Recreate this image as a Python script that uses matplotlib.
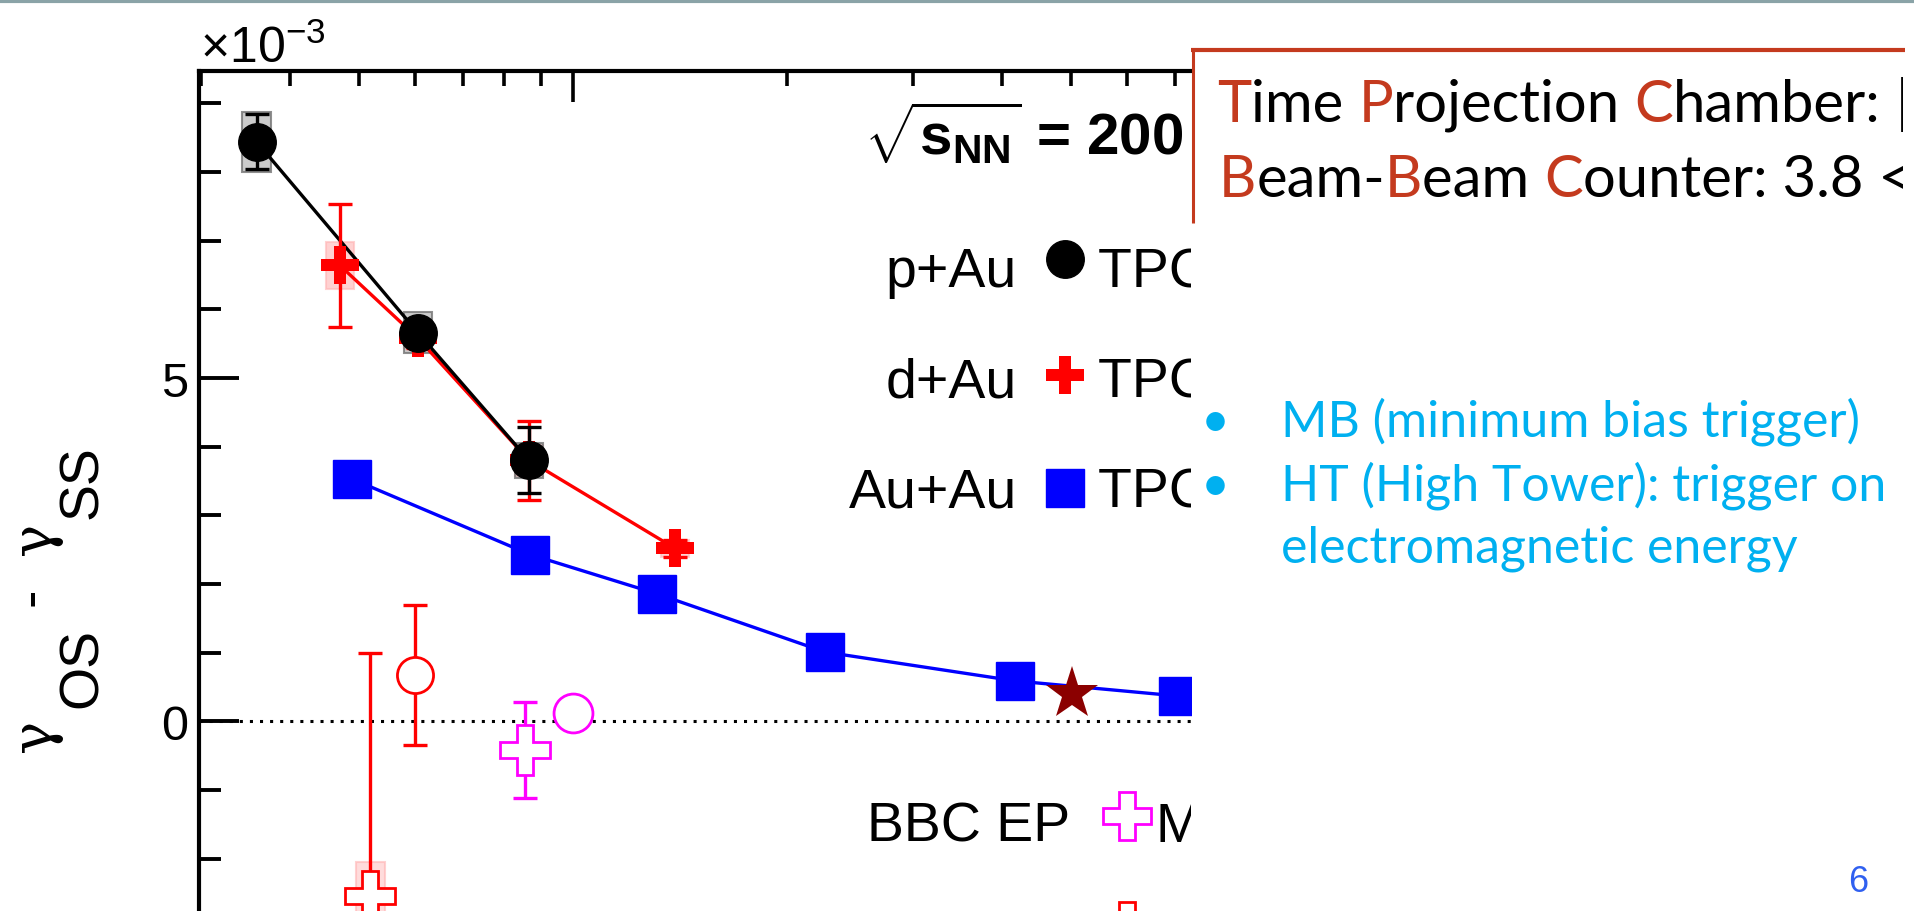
import numpy as np
import matplotlib.pyplot as plt
from matplotlib.patches import Rectangle
from matplotlib.transforms import Bbox

plt.rcParams['font.family'] = ['Liberation Sans', 'DejaVu Sans']
plt.rcParams['mathtext.fontset'] = 'custom'
plt.rcParams['mathtext.rm'] = 'Liberation Sans'
plt.rcParams['mathtext.it'] = 'Liberation Sans:italic'
plt.rcParams['mathtext.bf'] = 'Liberation Sans:bold'

W, H = 1915, 912
AX_L, AX_R, AX_T = 199, 1191, 72

# values (y in units of 1e-3)
pau_x = [3.59, 6.05, 8.67]
pau_y = [8.44, 5.66, 3.80]
pau_stat = [0.40, 0.10, 0.48]
pau_sys = [0.44, 0.30, 0.26]

dau_x = [4.70, 6.05, 8.67, 13.9]
dau_y = [6.64, 5.58, 3.80, 2.52]
dau_stat = [0.90, 0.15, 0.57, 0.12]
dau_sys = [0.34, 0.15, 0.22, 0.12]

auau_x = [4.89, 8.70, 13.1, 22.6, 41.8, 70.8]
auau_y = [3.53, 2.43, 1.86, 1.01, 0.59, 0.37]

star_x = [50.2]
star_y = [0.40]

bbc_dau_x = [5.19]
bbc_dau_y = [-2.54]
bbc_dau_err = [3.53]
bbc_dau_sys = [0.50]

ht_dau_x = [6.0]
ht_dau_y = [0.68]
ht_dau_err = [1.02]

bbc_pau_x = [8.56]
bbc_pau_y = [-0.41]
bbc_pau_err = [0.70]

ht_pau_x = [10.0]
ht_pau_y = [0.12]

fig = plt.figure(figsize=(W / 100, H / 100), dpi=100)
ax = fig.add_axes([AX_L / W, 0, (AX_R - AX_L) / W, (H - AX_T) / H])
ax.set_xscale('log')
ax.set_xlim(2.98, 73.8)
ax.set_ylim(-2.76, 9.47)

for s in ['right', 'bottom']:
    ax.spines[s].set_visible(False)
for s in ['left', 'top']:
    ax.spines[s].set_linewidth(3)
ax.xaxis.set_ticks_position('top')
ax.tick_params(axis='x', which='major', direction='in', length=22, width=2.6,
               labeltop=False, labelbottom=False)
ax.tick_params(axis='x', which='minor', direction='in', length=11, width=2.6,
               labeltop=False, labelbottom=False)
ax.yaxis.set_ticks_position('left')
ax.set_yticks([0, 5])
ax.set_yticks(np.arange(-2, 10), minor=True)
ax.tick_params(axis='y', which='major', direction='in', length=29, width=2.8,
               labelsize=35, pad=8)
ax.tick_params(axis='y', which='minor', direction='in', length=16, width=2.8)

ax.axhline(0, color='k', lw=2.2, ls=(0, (1, 2.3)), zorder=1)


def sys_boxes(x, y, s, fc, ec):
    for xi, yi, si in zip(x, y, s):
        ax.add_patch(Rectangle((xi * 10 ** -0.02, yi - si), xi * (10 ** 0.02 - 10 ** -0.02), 2 * si,
                               fc=fc, ec=ec, lw=1.5, zorder=2))


# lines
ax.plot(auau_x, auau_y, color='blue', lw=2.4, zorder=3)
ax.plot(dau_x, dau_y, color='red', lw=2.4, zorder=3)
ax.plot(pau_x, pau_y, color='k', lw=2.4, zorder=4)

# systematic boxes
sys_boxes(dau_x, dau_y, dau_sys, (1, 0.6, 0.6, 0.45), (1, 0.7, 0.7, 0.6))
sys_boxes(pau_x, pau_y, pau_sys, (0.55, 0.55, 0.55, 0.45), (0.45, 0.45, 0.45, 0.8))
sys_boxes(bbc_dau_x, bbc_dau_y, bbc_dau_sys, (1, 0.7, 0.7, 0.45), (1, 0.7, 0.7, 0.6))

eb = dict(fmt='none', elinewidth=2.4, capsize=8.5, capthick=2.4)
ax.errorbar(dau_x, dau_y, yerr=dau_stat, ecolor='red', zorder=5, **eb)
ax.errorbar(pau_x, pau_y, yerr=pau_stat, ecolor='k', zorder=6, **eb)
ax.errorbar(bbc_dau_x, bbc_dau_y, yerr=bbc_dau_err, ecolor='red', zorder=5, **eb)
ax.errorbar(ht_dau_x, ht_dau_y, yerr=ht_dau_err, ecolor='red', zorder=5, **eb)
ax.errorbar(bbc_pau_x, bbc_pau_y, yerr=bbc_pau_err, ecolor='magenta', zorder=5, **eb)

# markers
ax.plot(auau_x, auau_y, 's', ms=27, color='blue', zorder=6)
ax.plot(dau_x, dau_y, 'P', ms=28, color='red', mew=0, zorder=6)
ax.plot(pau_x, pau_y, 'o', ms=27, color='k', zorder=7)
ax.plot(star_x, star_y, '*', ms=40, color='#8B0000', mew=0, zorder=7)
ax.plot(bbc_dau_x, bbc_dau_y, 'P', ms=36, mfc='white', mec='red', mew=2, zorder=6)
ax.plot(ht_dau_x, ht_dau_y, 'o', ms=26, mfc='white', mec='red', mew=2, zorder=6)
ax.plot(bbc_pau_x, bbc_pau_y, 'P', ms=36, mfc='white', mec='magenta', mew=2, zorder=6)
ax.plot(ht_pau_x, ht_pau_y, 'o', ms=28, mfc='white', mec='magenta', mew=2, zorder=6)


def axfrac(x, y):
    return (x - AX_L) / (AX_R - AX_L), (H - y) / (H - AX_T)


# legend inside the plot (clipped at the cropped right edge)
ax.text(*axfrac(864, 155), r'$\sqrt{\mathbf{s}_{\mathbf{NN}}}$ = 200 GeV', transform=ax.transAxes,
        fontsize=42, fontweight='bold', ha='left', va='baseline', clip_on=True)

rows = [('p+Au', 287, 260, dict(marker='o', ms=27, color='k')),
        ('d+Au', 398, 376, dict(marker='P', ms=28, color='red', mew=0)),
        ('Au+Au', 508, 489, dict(marker='s', ms=27, color='blue'))]
for label, base, my, mk in rows:
    ax.text(*axfrac(1017, base), label, transform=ax.transAxes, fontsize=40,
            ha='right', va='baseline', clip_on=True)
    ax.plot(*axfrac(1065, my), transform=ax.transAxes, clip_on=True, **mk)
    ax.text(*axfrac(1098, base), 'TPC EP', transform=ax.transAxes, fontsize=40,
            ha='left', va='baseline', clip_on=True)

rows2 = [('BBC EP', 842, 817, 'magenta'), ('TPC EP', 952, 927, 'red')]
for label, base, my, c in rows2:
    ax.text(*axfrac(1070, base), label, transform=ax.transAxes, fontsize=40,
            ha='right', va='baseline', clip_on=True)
    ax.plot(*axfrac(1127, my), 'P', ms=35, mfc='white', mec=c, mew=2,
            transform=ax.transAxes, clip_on=True)
    ax.text(*axfrac(1155, base), 'MB', transform=ax.transAxes, fontsize=40,
            ha='left', va='baseline', clip_on=True)

# overlay in image pixel coordinates for the rest of the slide
ov = fig.add_axes([0, 0, 1, 1])
ov.set_xlim(0, W)
ov.set_ylim(H, 0)
ov.set_axis_off()
ov.patch.set_visible(False)

ov.plot([0, W], [1.5, 1.5], color='#8AA3A7', lw=3)

ov.text(200, 63, r'$\times10^{-3}$', fontsize=36, ha='left', va='baseline')

# y axis title, pieces rotated
ylab = [('γ', 735, 50, ['DejaVu Serif']), ('OS', 668, 97, ['Liberation Sans']),
        ('-', 597, 47, ['Liberation Sans']), ('γ', 538, 50, ['DejaVu Serif']),
        ('SS', 482, 97, ['Liberation Sans'])]
for s, yc, xb, fam in ylab:
    ov.text(xb, yc, s, fontsize=40, rotation=90, rotation_mode='anchor',
            ha='center', va='baseline', family=fam)

# red framed box
red = '#C43A1E'
ov.plot([1191, 1905], [51, 51], color=red, lw=3, solid_capstyle='butt')
ov.plot([1193, 1193], [50, 224], color=red, lw=2.2, solid_capstyle='butt')

clip = Bbox.from_extents(1191, H - 224, 1903, H - 49)
box_font = ['Lato', 'DejaVu Sans']


def rainbow(x, y, parts, size):
    texts = []
    prev = None
    for s, c in parts:
        if prev is None:
            t = ov.text(x, y, s, color=c, fontsize=size, family=box_font,
                        ha='left', va='baseline')
        else:
            t = ov.annotate(s, xy=(1, 0), xycoords=prev, ha='left', va='bottom',
                            color=c, fontsize=size, family=box_font)
        t.set_clip_on(True)
        t.set_clip_box(clip)
        texts.append(t)
        prev = t
    return texts


line1 = rainbow(1217, 122, [('T', red), ('ime ', 'k'), ('P', red), ('rojection ', 'k'),
                            ('C', red), ('hamber:', 'k'), (' |η| < 1', 'k')], 40)
line2 = rainbow(1219, 197, [('B', red), ('eam-', 'k'), ('B', red), ('eam ', 'k'),
                            ('C', red), ('ounter: 3.8 < |η| < 5.1', 'k')], 40)

blue = '#00B0F0'
b1 = ov.text(1281, 437, 'MB (minimum bias trigger)', color=blue, fontsize=36,
             family=box_font, ha='left', va='baseline')
b2 = ov.text(1281, 501, 'HT (High Tower): trigger on', color=blue, fontsize=36,
             family=box_font, ha='left', va='baseline')
b3 = ov.text(1281, 563, 'electromagnetic energy', color=blue, fontsize=36,
             family=box_font, ha='left', va='baseline')
for yb in [437, 501]:
    ov.text(1215, yb, '•', color=blue, fontsize=36, family=box_font, ha='center', va='baseline')

ov.text(1858, 892, '6', color='#3060F0', fontsize=26, ha='center', va='baseline')

# scale the slide fonts so the lines span the measured widths
fig.canvas.draw()
r = fig.canvas.get_renderer()
w1 = line1[5].get_window_extent(r).x1 - line1[0].get_window_extent(r).x0
k = 663 / w1
for t in line1 + line2:
    t.set_fontsize(t.get_fontsize() * k)
wb = b1.get_window_extent(r).width
kb = 579 / wb
for t in [b1, b2, b3]:
    t.set_fontsize(t.get_fontsize() * kb)

fig.savefig('out.png', dpi=100)
